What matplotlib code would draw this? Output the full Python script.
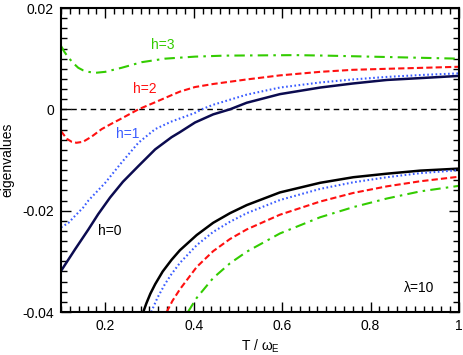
import matplotlib
matplotlib.use("Agg")
import matplotlib.pyplot as plt
from matplotlib.ticker import MultipleLocator, FixedLocator

plt.rcParams['font.family'] = ['Liberation Sans', 'DejaVu Sans']
plt.rcParams['mathtext.fontset'] = 'custom'
plt.rcParams['mathtext.rm'] = 'Liberation Sans'
plt.rcParams['mathtext.it'] = 'Liberation Sans'

# ---- data ----
T_h3 = [0.1, 0.108, 0.117, 0.128, 0.139, 0.15, 0.162, 0.177, 0.2, 0.237, 0.282, 0.335, 0.403, 0.47, 0.55, 0.63, 0.7, 0.8, 0.9, 1.0]
v_h3 = [0.0125, 0.0113, 0.0102, 0.0091, 0.0082, 0.0077, 0.0074, 0.0072, 0.0074, 0.0082, 0.0093, 0.0100, 0.0104, 0.0106, 0.01065, 0.0107, 0.0106, 0.0104, 0.0102, 0.0100]

T_h2 = [0.1, 0.113, 0.124, 0.135, 0.15, 0.169, 0.192, 0.215, 0.237, 0.275, 0.313, 0.35, 0.369, 0.403, 0.444, 0.52, 0.595, 0.686, 0.76, 0.837, 0.92, 1.0]
v_h2 = [-0.0043, -0.0058, -0.0064, -0.0066, -0.0064, -0.0054, -0.0039, -0.0028, -0.0018, 0.0, 0.0014, 0.0028, 0.0035, 0.0044, 0.0050, 0.0059, 0.0067, 0.0074, 0.0078, 0.0080, 0.0082, 0.0084]

T_h1 = [0.1, 0.117, 0.132, 0.15, 0.162, 0.2, 0.237, 0.275, 0.313, 0.35, 0.369, 0.403, 0.418, 0.444, 0.52, 0.595, 0.686, 0.76, 0.837, 0.92, 1.0]
v_h1 = [-0.0233, -0.0224, -0.0210, -0.0194, -0.0180, -0.0145, -0.0105, -0.0066, -0.0039, -0.0024, -0.0018, -0.0007, 0.0, 0.0009, 0.0029, 0.0043, 0.0053, 0.0059, 0.0064, 0.0068, 0.0071]

T_h0 = [0.1, 0.132, 0.162, 0.184, 0.211, 0.24, 0.275, 0.313, 0.35, 0.369, 0.403, 0.444, 0.482, 0.52, 0.595, 0.686, 0.76, 0.837, 0.92, 1.0]
v_h0 = [-0.0319, -0.0276, -0.0237, -0.0207, -0.0174, -0.0143, -0.0112, -0.0079, -0.0055, -0.0045, -0.0026, -0.0010, 0.0, 0.0013, 0.0030, 0.0043, 0.0051, 0.0058, 0.0062, 0.0066]

T_l0 = [0.286, 0.293, 0.302, 0.313, 0.33, 0.35, 0.369, 0.407, 0.444, 0.482, 0.52, 0.595, 0.686, 0.761, 0.837, 0.912, 1.0]
v_l0 = [-0.0400, -0.0383, -0.0364, -0.0345, -0.0320, -0.0297, -0.0278, -0.0248, -0.0224, -0.0205, -0.0189, -0.0164, -0.0145, -0.0134, -0.0127, -0.0121, -0.0117]

T_l1 = [0.304, 0.318, 0.335, 0.35, 0.369, 0.407, 0.444, 0.482, 0.52, 0.595, 0.686, 0.761, 0.837, 0.912, 1.0]
v_l1 = [-0.0400, -0.0372, -0.0345, -0.0325, -0.0303, -0.0268, -0.0242, -0.0222, -0.0205, -0.0179, -0.0157, -0.0144, -0.0134, -0.0126, -0.0120]

T_l2 = [0.339, 0.352, 0.369, 0.407, 0.444, 0.482, 0.52, 0.595, 0.686, 0.761, 0.837, 0.912, 1.0]
v_l2 = [-0.0400, -0.0378, -0.0355, -0.0311, -0.0280, -0.0256, -0.0237, -0.0208, -0.0182, -0.0165, -0.0152, -0.0142, -0.0133]

T_l3 = [0.387, 0.407, 0.444, 0.482, 0.52, 0.595, 0.686, 0.761, 0.837, 0.912, 1.0]
v_l3 = [-0.0400, -0.0372, -0.0333, -0.0304, -0.0281, -0.0245, -0.0213, -0.0193, -0.0176, -0.0162, -0.0151]

x_ticks = [0.2, 0.4, 0.6, 0.8, 1.0]
x_ticklabels = ['0.2', '0.4', '0.6', '0.8', '1']
y_ticks = [-0.04, -0.02, 0.0, 0.02]
y_ticklabels = ['-0.04', '-0.02', '0', '0.02']

labels = ['h=0', 'h=1', 'h=2', 'h=3']

# ---- styles ----
c_navy = '#0b0b50'
c_black = '#000000'
c_blue = '#3a5cff'
c_red = '#ff1010'
c_green = '#33cc00'

fig = plt.figure(figsize=(4.63, 3.55), dpi=100)
ax = fig.add_axes([61/463, 1-312/355, 398/463, 304/355])

ax.axhline(0, color='black', lw=1.0, ls=(0, (4, 3)), zorder=1)

dot = (0, (0.8, 1.2))
dash = (0, (3, 1.5))
dashdot = (0, (5, 2.5, 1.2, 2.5))

ax.plot(T_h0, v_h0, color=c_navy, lw=1.8)
ax.plot(T_h1, v_h1, color=c_blue, lw=1.5, ls=dot)
ax.plot(T_h2, v_h2, color=c_red, lw=1.5, ls=dash)
ax.plot(T_h3, v_h3, color=c_green, lw=1.5, ls=dashdot)

ax.plot(T_l0, v_l0, color=c_black, lw=1.8)
ax.plot(T_l1, v_l1, color=c_blue, lw=1.5, ls=dot)
ax.plot(T_l2, v_l2, color=c_red, lw=1.5, ls=dash)
ax.plot(T_l3, v_l3, color=c_green, lw=1.5, ls=dashdot)

fs = 10
ax.text(0.21, -0.0240, labels[0], color='black', fontsize=fs, ha='center', va='center')
ax.text(0.25, -0.0049, labels[1], color=c_blue, fontsize=fs, ha='center', va='center')
ax.text(0.29, 0.0040, labels[2], color=c_red, fontsize=fs, ha='center', va='center')
ax.text(0.33, 0.0126, labels[3], color=c_green, fontsize=fs, ha='center', va='center')
ax.text(0.91, -0.0353, 'λ=10', color='black', fontsize=fs, ha='center', va='center')

ax.set_xlim(0.1, 1.0)
ax.set_ylim(-0.04, 0.02)
ax.xaxis.set_major_locator(FixedLocator(x_ticks))
ax.set_xticklabels(x_ticklabels)
ax.xaxis.set_minor_locator(MultipleLocator(0.02))
ax.yaxis.set_major_locator(FixedLocator(y_ticks))
ax.set_yticklabels(y_ticklabels)
ax.yaxis.set_minor_locator(MultipleLocator(0.002))

ax.tick_params(which='both', direction='in', top=True, right=True, labelsize=fs, width=1.0)
ax.tick_params(which='major', length=7, pad=5)
ax.tick_params(which='minor', length=4)
for s in ax.spines.values():
    s.set_linewidth(1.5)

ax.set_xlabel(r'T / $\omega_{\mathrm{E}}$', fontsize=fs, labelpad=3)
ax.set_ylabel('eigenvalues', fontsize=fs)
ax.yaxis.set_label_coords(-0.118, 0.5)

fig.savefig('out.png', dpi=100)
